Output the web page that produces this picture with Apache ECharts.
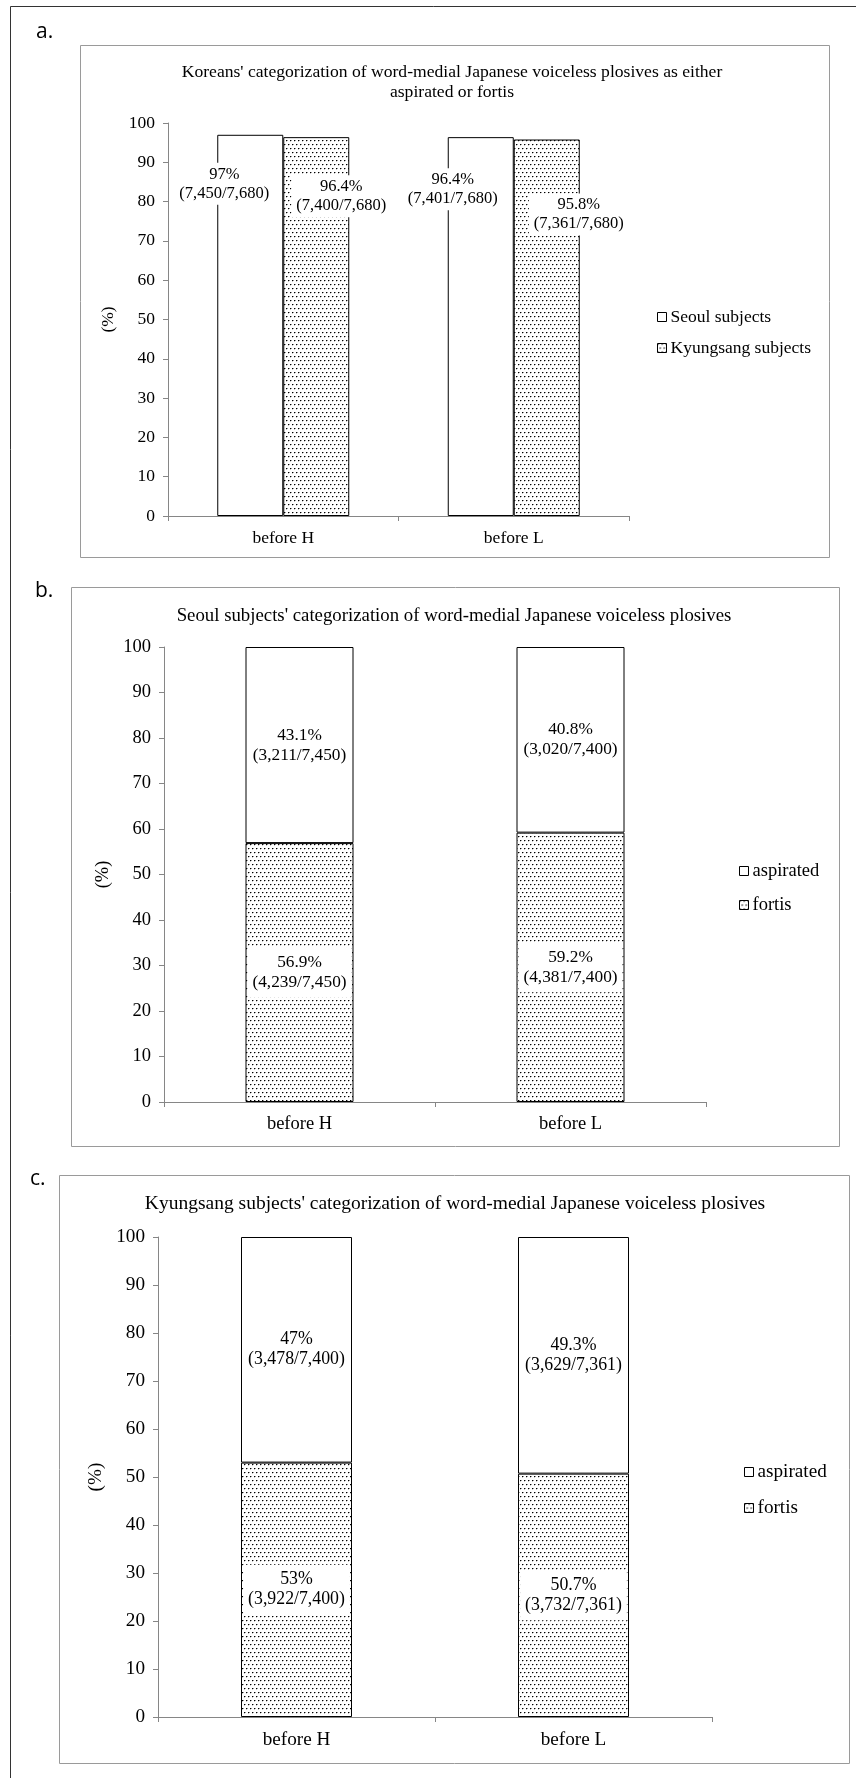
<!DOCTYPE html>
<html>
<head>
<meta charset="utf-8">
<script src="https://cdn.jsdelivr.net/npm/echarts@6/dist/echarts.min.js"></script>
<style>
  html, body { margin: 0; padding: 0; background: #fff; }
  #chart { width: 856px; height: 1778px; }
</style>
</head>
<body>
<div id="chart"></div>
<script>
// ---- data ----
const categories = ['before H', 'before L'];

// a. both dialect groups: share of responses categorized as aspirated or fortis
const seoulPct = [97, 96.4];
const seoulCount = [7450, 7401];
const kyungsangPct = [96.4, 95.8];
const kyungsangCount = [7400, 7361];
const responseTotal = [7680, 7680];

// b. Seoul subjects
const seoulAspiratedPct = [43.1, 40.8];
const seoulAspiratedCount = [3211, 3020];
const seoulFortisPct = [56.9, 59.2];
const seoulFortisCount = [4239, 4381];
const seoulTotal = [7450, 7400];

// c. Kyungsang subjects
const kyungAspiratedPct = [47, 49.3];
const kyungAspiratedCount = [3478, 3629];
const kyungFortisPct = [53, 50.7];
const kyungFortisCount = [3922, 3732];
const kyungTotal = [7400, 7361];

const yMin = 0, yMax = 100, yStep = 10;

// ---- styling ----
const SERIF = '"Liberation Serif", "Times New Roman", serif';
const AXIS_GREY = '#868686';
const BOX_GREY = '#9a9a9a';

// per-panel text sizes (axis / legend text, data labels, titles)
const textSize = [17.5, 18.5, 19.2];
const labelSize = [16.5, 17.3, 17.8];
const titleSize = [17.6, 18.8, 19.5];

// small staggered dot fill used for the second series of every panel
function dotPattern() {
  const c = document.createElement('canvas');
  c.width = 4; c.height = 8;
  const g = c.getContext('2d');
  g.fillStyle = '#fff';
  g.fillRect(0, 0, 4, 8);
  g.fillStyle = '#000';
  g.fillRect(0, 0, 1, 1);
  g.fillRect(2, 4, 1, 1);
  g.fillStyle = '#9a9a9a';
  g.fillRect(1, 0, 1, 1);
  g.fillRect(3, 4, 1, 1);
  g.fillStyle = '#c8c8c8';
  g.fillRect(0, 1, 1, 1);
  g.fillRect(2, 5, 1, 1);
  return { image: c, repeat: 'repeat' };
}
const DOTS = dotPattern();

const fmtInt = n => String(n).replace(/\B(?=(\d{3})+(?!\d))/g, ',');
const labelText = (pcts, counts, totals) => p =>
  pcts[p.dataIndex] + '%\n(' + fmtInt(counts[p.dataIndex]) + '/' + fmtInt(totals[p.dataIndex]) + ')';

// plot areas of the three panels
const grids = [
  { left: 168, top: 123, width: 461, height: 393 },
  { left: 164, top: 647, width: 542, height: 455 },
  { left: 158, top: 1237, width: 554, height: 480 }
];

// hand-placed labels in panel a: shift from the top centre of each bar
const panelALabelShift = {
  seoul: [[-26, 49], [-28, 52]],
  kyungsang: [[25, 59], [32, 75]]
};

const xAxes = grids.map((g, i) => ({
  gridIndex: i,
  type: 'category',
  data: categories,
  axisLine: { show: true, lineStyle: { color: AXIS_GREY, width: 1 } },
  axisTick: { show: true, length: 5, lineStyle: { color: AXIS_GREY } },
  axisLabel: { fontFamily: SERIF, fontSize: textSize[i], color: '#000', margin: 13 },
  splitLine: { show: false }
}));

const yAxes = grids.map((g, i) => ({
  gridIndex: i,
  type: 'value',
  min: yMin, max: yMax, interval: yStep,
  name: '(%)',
  nameLocation: 'middle',
  nameGap: [45, 48, 52][i],
  nameTextStyle: { fontFamily: SERIF, fontSize: textSize[i], color: '#000' },
  axisLine: { show: true, lineStyle: { color: AXIS_GREY, width: 1 } },
  axisTick: { show: true, length: 5, lineStyle: { color: AXIS_GREY } },
  axisLabel: { fontFamily: SERIF, fontSize: textSize[i], color: '#000', margin: 13 },
  splitLine: { show: false }
}));

const outline = { borderColor: '#000', borderWidth: 1 };
function labelStyle(panel, extra) {
  return Object.assign({
    show: true,
    fontFamily: SERIF,
    fontSize: labelSize[panel],
    lineHeight: Math.round(labelSize[panel] * 1.15),
    color: '#000',
    backgroundColor: '#fff',
    align: 'center',
    verticalAlign: 'middle'
  }, extra);
}

function shiftedData(values, shifts) {
  return values.map((v, i) => ({ value: v, label: { offset: shifts[i] } }));
}

const series = [
  // a.
  {
    name: 'Seoul subjects', type: 'bar', xAxisIndex: 0, yAxisIndex: 0,
    barWidth: 66, barGap: '0%',
    itemStyle: Object.assign({ color: '#fff' }, outline),
    label: labelStyle(0, { position: ['50%', 0], padding: [2, 5],
      formatter: labelText(seoulPct, seoulCount, responseTotal) }),
    data: shiftedData(seoulPct, panelALabelShift.seoul)
  },
  {
    name: 'Kyungsang subjects', type: 'bar', xAxisIndex: 0, yAxisIndex: 0,
    barWidth: 66, barGap: '0%',
    itemStyle: Object.assign({ color: DOTS }, outline),
    label: labelStyle(0, { position: ['50%', 0], padding: [2, 5],
      formatter: labelText(kyungsangPct, kyungsangCount, responseTotal) }),
    data: shiftedData(kyungsangPct, panelALabelShift.kyungsang)
  },
  // b.
  {
    name: 'fortis', type: 'bar', xAxisIndex: 1, yAxisIndex: 1, stack: 'seoul',
    barWidth: 108,
    itemStyle: Object.assign({ color: DOTS }, outline),
    label: labelStyle(1, { position: 'inside', padding: [5, 5],
      formatter: labelText(seoulFortisPct, seoulFortisCount, seoulTotal) }),
    data: seoulFortisPct
  },
  {
    name: 'aspirated', type: 'bar', xAxisIndex: 1, yAxisIndex: 1, stack: 'seoul',
    barWidth: 108,
    itemStyle: Object.assign({ color: '#fff' }, outline),
    label: labelStyle(1, { position: 'inside', padding: [5, 5],
      formatter: labelText(seoulAspiratedPct, seoulAspiratedCount, seoulTotal) }),
    data: seoulAspiratedPct
  },
  // c.
  {
    name: 'fortis', type: 'bar', xAxisIndex: 2, yAxisIndex: 2, stack: 'kyungsang',
    barWidth: 111,
    itemStyle: Object.assign({ color: DOTS }, outline),
    label: labelStyle(2, { position: 'inside', padding: [5, 5],
      formatter: labelText(kyungFortisPct, kyungFortisCount, kyungTotal) }),
    data: kyungFortisPct
  },
  {
    name: 'aspirated', type: 'bar', xAxisIndex: 2, yAxisIndex: 2, stack: 'kyungsang',
    barWidth: 111,
    itemStyle: Object.assign({ color: '#fff' }, outline),
    label: labelStyle(2, { position: 'inside', padding: [5, 5],
      formatter: labelText(kyungAspiratedPct, kyungAspiratedCount, kyungTotal) }),
    data: kyungAspiratedPct
  }
];

// legends: first item centre y, spacing between item centres
function legendAt(panel, left, firstCentre, spacing, names) {
  const lh = Math.round(textSize[panel] * 1.05);
  return {
    orient: 'vertical', left: left, top: firstCentre - lh / 2, itemGap: spacing - lh,
    padding: 0,
    itemWidth: 9, itemHeight: 9, icon: 'rect',
    selectedMode: false,
    data: names,
    itemStyle: { borderColor: '#000', borderWidth: 1 },
    textStyle: { fontFamily: SERIF, fontSize: textSize[panel], lineHeight: lh, color: '#000', padding: [0, 0, 0, -1] }
  };
}

function boxRect(x, y, w, h) {
  return { type: 'rect', shape: { x: x + 0.5, y: y + 0.5, width: w, height: h },
    style: { fill: 'none', stroke: BOX_GREY, lineWidth: 1 }, silent: true, z: -10 };
}
function textAt(x, y, text, font, align, extra) {
  return { type: 'text', x: x, y: y, silent: true,
    style: Object.assign({ text: text, font: font, fill: '#000',
      align: align, verticalAlign: 'middle', textAlign: align, textVerticalAlign: 'middle' }, extra || {}) };
}
const letterFont = '21px "Open Sans", "DejaVu Sans", sans-serif';

const graphic = [
  // frame
  { type: 'line', shape: { x1: 10.5, y1: 6.5, x2: 856, y2: 6.5 }, style: { stroke: '#333', lineWidth: 1 }, silent: true },
  { type: 'line', shape: { x1: 10.5, y1: 6.5, x2: 10.5, y2: 1778 }, style: { stroke: '#333', lineWidth: 1 }, silent: true },
  // panel boxes
  boxRect(80, 45, 749, 512),
  boxRect(71, 587, 768, 559),
  boxRect(59, 1175, 790, 588),
  // panel letters
  textAt(36, 32, 'a.', letterFont, 'left'),
  textAt(35, 591, 'b.', letterFont, 'left'),
  textAt(30, 1179, 'c.', letterFont, 'left'),
  // titles
  textAt(452, 82, "Koreans' categorization of word-medial Japanese voiceless plosives as either\naspirated or fortis",
    titleSize[0] + 'px ' + SERIF, 'center', { lineHeight: 20 }),
  textAt(454, 616, "Seoul subjects' categorization of word-medial Japanese voiceless plosives",
    titleSize[1] + 'px ' + SERIF, 'center'),
  textAt(455, 1204, "Kyungsang subjects' categorization of word-medial Japanese voiceless plosives",
    titleSize[2] + 'px ' + SERIF, 'center')
];

const chart = echarts.init(document.getElementById('chart'), null, { renderer: 'canvas' });
chart.setOption({
  backgroundColor: '#fff',
  animation: false,
  grid: grids,
  xAxis: xAxes,
  yAxis: yAxes,
  legend: [
    legendAt(0, 657, 317, 31, ['Seoul subjects', 'Kyungsang subjects']),
    legendAt(1, 739, 871, 34, ['aspirated', 'fortis']),
    legendAt(2, 744, 1472, 36, ['aspirated', 'fortis'])
  ],
  series: series,
  graphic: graphic
});
</script>
</body>
</html>
